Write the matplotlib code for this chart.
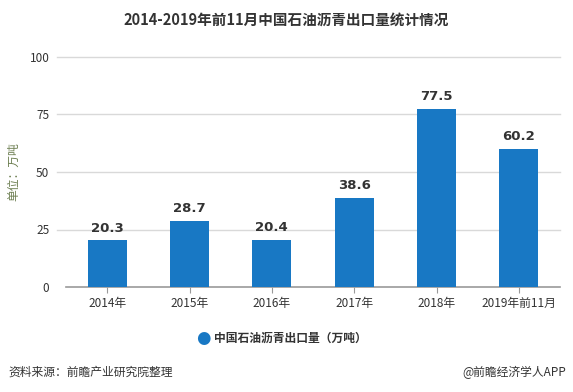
import matplotlib
matplotlib.use("Agg")
import matplotlib.pyplot as plt
import matplotlib.transforms as mtransforms

plt.rcParams['font.family'] = ['Noto Sans CJK SC', 'DejaVu Sans']

# Data
categories = ["2014年", "2015年", "2016年", "2017年", "2018年", "2019年前11月"]
values = [20.3, 28.7, 20.4, 38.6, 77.5, 60.2]
y_ticks = [0, 25, 50, 75, 100]

BAR_COLOR = "#1878c4"
GRID_COLOR = "#d9d9d9"
TEXT_COLOR = "#333333"

fig = plt.figure(figsize=(5.73, 3.92), dpi=100)
ax = fig.add_axes([66 / 573, 1 - 287 / 392, (560 - 66) / 573, (287 - 57) / 392])

x = range(len(categories))
ax.bar(x, values, width=0.47, color=BAR_COLOR, zorder=3)
for xi, v in zip(x, values):
    ax.text(xi, v + 2.5, f"{v}", ha="center", va="bottom", fontsize=9.5,
            fontweight="bold", color=TEXT_COLOR, family="DejaVu Sans")

ax.set_xlim(-0.5, len(categories) - 0.5)
ax.set_ylim(0, 100)
ax.set_yticks(y_ticks)
ax.set_yticklabels([str(t) for t in y_ticks], fontsize=8.5, color=TEXT_COLOR)
ax.set_xticks(list(x))
ax.set_xticklabels(categories, fontsize=8.5, color=TEXT_COLOR)
ax.tick_params(axis="y", length=0, pad=12)
ax.tick_params(axis="x", length=4, color="#999999", pad=3)

# grid lines run a little to the left of the plot area
trans = mtransforms.blended_transform_factory(ax.transAxes, ax.transData)
for t in y_ticks[1:]:
    ax.plot([-0.018, 1.0], [t, t], color=GRID_COLOR, lw=1, transform=trans,
            clip_on=False, zorder=1)

for side in ["top", "right", "left"]:
    ax.spines[side].set_visible(False)
ax.spines["bottom"].set_color("#999999")
ax.spines["bottom"].set_linewidth(1.2)

fig.text(14 / 573, 1 - 172 / 392, "单位：万吨", rotation=90, ha="center",
         va="center", fontsize=8.5, color="#6b7d4f")

fig.text(0.5, 1 - 20 / 392, "2014-2019年前11月中国石油沥青出口量统计情况",
         ha="center", va="center", fontsize=10.5, fontweight="bold",
         color=TEXT_COLOR)

# legend
fig.text(203 / 573, 1 - 338 / 392, "●", ha="center", va="center",
         fontsize=12, color=BAR_COLOR, family="DejaVu Sans")
fig.text(214 / 573, 1 - 338 / 392, "中国石油沥青出口量（万吨）", ha="left",
         va="center", fontsize=8.5, fontweight="bold", color=TEXT_COLOR)

fig.text(8 / 573, 1 - 372 / 392, "资料来源：前瞻产业研究院整理", ha="left",
         va="center", fontsize=8.5, color=TEXT_COLOR)
fig.text(566 / 573, 1 - 372 / 392, "@前瞻经济学人APP", ha="right",
         va="center", fontsize=8.5, color=TEXT_COLOR)

fig.savefig("out.png", dpi=100)
